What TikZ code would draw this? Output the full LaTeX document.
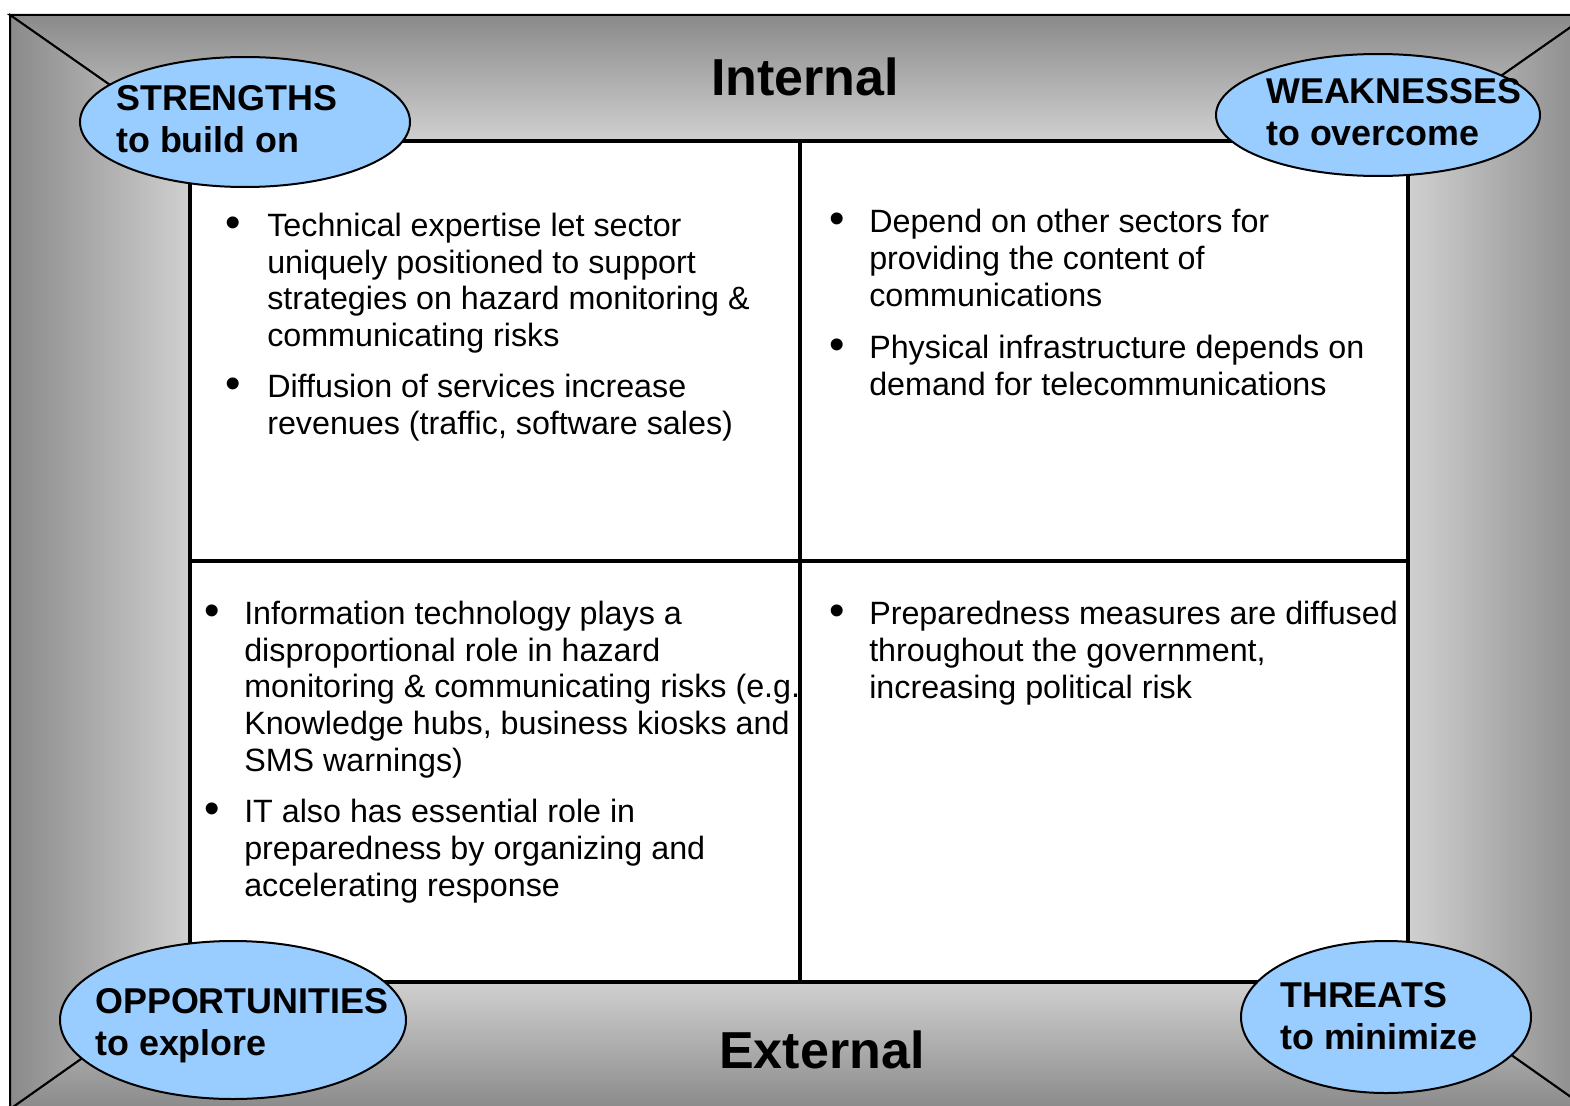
\documentclass[tikz,border=0pt]{standalone}
\usepackage{fontspec}
\setmainfont{Liberation Sans}
\definecolor{ovalblue}{RGB}{153,204,255}
\definecolor{bandDark}{RGB}{138,138,138}
\definecolor{bandLight}{RGB}{208,208,208}
\tikzset{
  bodytext/.style={anchor=base west, inner sep=0pt, align=left, font=\fontsize{24.2}{27.4}\selectfont},
  dottext/.style={anchor=base west, inner sep=0pt, font=\fontsize{33}{36}\selectfont},
  ovaltext/.style={anchor=base west, inner sep=0pt, align=left, font=\bfseries\fontsize{26.9}{31.5}\selectfont},
  headtext/.style={anchor=base west, inner sep=0pt, font=\bfseries\fontsize{39}{45}\selectfont},
  oval/.style={draw=black, fill=ovalblue, line width=1.5pt},
  band/.style={draw=black, line width=1.5pt},
}
\begin{document}
\begin{tikzpicture}[x=0.75pt,y=0.75pt,yscale=-1,xscale=1]
        %set diagram to the size of the page
        \useasboundingbox (0,0) rectangle (1570,1106);

        %Shape: Trapezoid [top band]
        \shade [band, top color=bandDark, bottom color=bandLight] (10,15) -- (1588,15) -- (1408,141) -- (190,141) -- cycle ;
        %Shape: Trapezoid [bottom band]
        \shade [band, top color=bandLight, bottom color=bandDark] (190,982) -- (1408,982) -- (1588,1109) -- (10,1109) -- cycle ;
        %Shape: Trapezoid [left band]
        \shade [band, left color=bandDark, right color=bandLight] (10,15) -- (190,141) -- (190,982) -- (10,1109) -- cycle ;
        %Shape: Trapezoid [right band]
        \shade [band, left color=bandLight, right color=bandDark] (1588,15) -- (1408,141) -- (1408,982) -- (1588,1109) -- cycle ;

        %Shape: Rectangle
        \draw [fill=white, line width=2.5pt] (190,141) rectangle (1408,982) ;
        %Straight Lines
        \draw [line width=2.5pt] (800,141) -- (800,982) ;
        %Straight Lines
        \draw [line width=2.5pt] (190,561) -- (1408,561) ;

        %Shape: Ellipse
        \draw [oval] (245,122) ellipse (165 and 65) ;
        %Shape: Ellipse
        \draw [oval] (1378,115) ellipse (162 and 61) ;
        %Shape: Ellipse
        \draw [oval] (233,1020) ellipse (173 and 79) ;
        %Shape: Ellipse
        \draw [oval] (1386,1017) ellipse (145 and 76) ;

        % Text Node
        \node (internal) [headtext] at (711,95) {Internal};
        % Text Node
        \node (external) [headtext] at (719,1068) {External};
        % Text Node (base = last line)
        \node (strengths) [ovaltext] at (116,152) {STRENGTHS\\to build on};
        % Text Node
        \node (weaknesses) [ovaltext] at (1266,145) {WEAKNESSES\\to overcome};
        % Text Node
        \node (opportunities) [ovaltext] at (95,1055) {OPPORTUNITIES\\to explore};
        % Text Node
        \node (threats) [ovaltext] at (1280,1049) {THREATS\\to minimize};

        % Text Node
        \node (dotSa) [dottext] at (225.5,237) {•};
        \node (itemSa) [bodytext] at (267,346.5) {Technical expertise let sector\\uniquely positioned to support\\strategies on hazard monitoring \&\\communicating risks};
        % Text Node
        \node (dotSb) [dottext] at (225.5,398) {•};
        \node (itemSb) [bodytext] at (267,434.5) {Diffusion of services increase\\revenues (traffic, software sales)};
        % Text Node
        \node (dotWa) [dottext] at (829.5,233) {•};
        \node (itemWa) [bodytext] at (869,306) {Depend on other sectors for\\providing the content of\\communications};
        % Text Node
        \node (dotWb) [dottext] at (829.5,359) {•};
        \node (itemWb) [bodytext] at (869,395.5) {Physical infrastructure depends on\\demand for telecommunications};
        % Text Node
        \node (dotOa) [dottext] at (204.5,625) {•};
        \node (itemOa) [bodytext] at (244,771) {Information technology plays a\\disproportional role in hazard\\monitoring \& communicating risks (e.g.\\Knowledge hubs, business kiosks and\\SMS warnings)};
        % Text Node
        \node (dotOb) [dottext] at (204.5,823) {•};
        \node (itemOb) [bodytext] at (244,896) {IT also has essential role in\\preparedness by organizing and\\accelerating response};
        % Text Node
        \node (dotTa) [dottext] at (829.5,625) {•};
        \node (itemTa) [bodytext] at (869,698) {Preparedness measures are diffused\\throughout the government,\\increasing political risk};

\end{tikzpicture}
\end{document}
